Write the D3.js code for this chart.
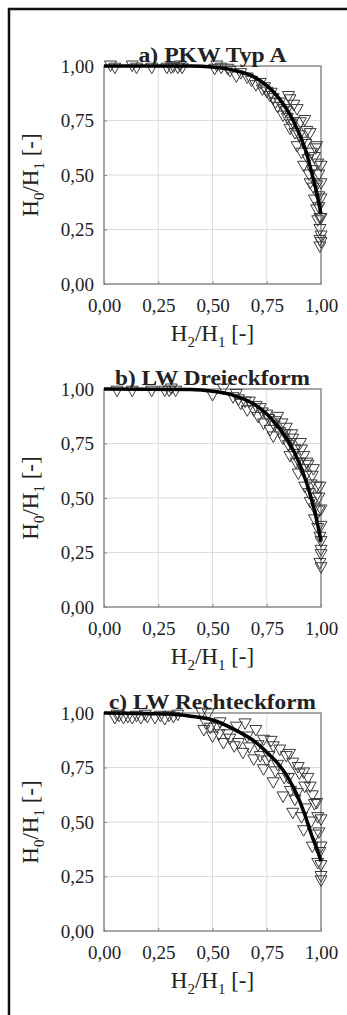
<!DOCTYPE html>
<html>
<head>
<meta charset="utf-8">
<script src="https://cdn.jsdelivr.net/npm/d3@7"></script>
<style>
  body { margin: 0; background: #fff; }
  svg { display: block; }
  svg text { font-family: "Liberation Serif", "Times New Roman", Times, serif !important; fill: #222; }
</style>
</head>
<body>
<div id="chart"></div>
<script>
// tick labels (German decimal comma)
const tickValues = [0, 0.25, 0.5, 0.75, 1];
const tickLabels = ['0,00', '0,25', '0,50', '0,75', '1,00'];

const titles = ['a) PKW Typ A', 'b) LW Dreieckform', 'c) LW Rechteckform'];

// measured points [H2/H1, H0/H1]
const pointsA = [
  [0.05, 0.99], [0.15, 0.99], [0.22, 0.99], [0.29, 0.99], [0.31, 0.99], [0.34, 0.99], [0.36, 0.99],
  [0.03, 1.0], [0.13, 1.0], [0.35, 1.0], [0.32, 0.995],
  [0.51, 0.985], [0.52, 1.0], [0.54, 0.99], [0.57, 0.985], [0.58, 0.975], [0.61, 0.95], [0.63, 0.965],
  [0.66, 0.945], [0.68, 0.93], [0.70, 0.91], [0.72, 0.92], [0.73, 0.89], [0.74, 0.90], [0.75, 0.88],
  [0.765, 0.86], [0.77, 0.875], [0.78, 0.85], [0.79, 0.83], [0.80, 0.81], [0.81, 0.83], [0.825, 0.77],
  [0.83, 0.80], [0.84, 0.79], [0.845, 0.76], [0.85, 0.86], [0.857, 0.71], [0.857, 0.845], [0.865, 0.73],
  [0.87, 0.74], [0.875, 0.82], [0.88, 0.69], [0.89, 0.63], [0.89, 0.80], [0.90, 0.68], [0.905, 0.74],
  [0.91, 0.60], [0.915, 0.65], [0.92, 0.54], [0.925, 0.75], [0.93, 0.64], [0.935, 0.70], [0.94, 0.57],
  [0.945, 0.50], [0.95, 0.46], [0.95, 0.69], [0.955, 0.60], [0.96, 0.52], [0.965, 0.44], [0.97, 0.385],
  [0.97, 0.58], [0.975, 0.62], [0.98, 0.63], [0.98, 0.45], [0.98, 0.34], [0.985, 0.29], [0.985, 0.55],
  [0.99, 0.50], [0.99, 0.40], [0.99, 0.35], [0.995, 0.25], [0.995, 0.30], [1.0, 0.54], [1.0, 0.46],
  [1.0, 0.39], [1.0, 0.30], [1.0, 0.19], [0.995, 0.17], [1.0, 0.22], [0.995, 0.20]
];
const pointsB = [
  [0.06, 0.99], [0.13, 0.99], [0.22, 0.99], [0.28, 0.99], [0.30, 0.99], [0.33, 0.99], [0.31, 1.0],
  [0.50, 0.97], [0.55, 1.0], [0.595, 0.96], [0.61, 0.975], [0.62, 0.95], [0.63, 0.93], [0.65, 0.94],
  [0.66, 0.90], [0.67, 0.94], [0.69, 0.90], [0.70, 0.92], [0.71, 0.87], [0.72, 0.91], [0.73, 0.89],
  [0.735, 0.84], [0.75, 0.88], [0.76, 0.86], [0.765, 0.81], [0.78, 0.78], [0.785, 0.83], [0.79, 0.85],
  [0.80, 0.87], [0.81, 0.80], [0.82, 0.84], [0.825, 0.77], [0.835, 0.79], [0.84, 0.82], [0.85, 0.74],
  [0.857, 0.69], [0.86, 0.75], [0.865, 0.79], [0.87, 0.77], [0.875, 0.70], [0.88, 0.72], [0.885, 0.66],
  [0.895, 0.61], [0.90, 0.66], [0.905, 0.75], [0.91, 0.72], [0.915, 0.63], [0.92, 0.69], [0.925, 0.55],
  [0.93, 0.60], [0.935, 0.66], [0.94, 0.65], [0.945, 0.52], [0.95, 0.48], [0.955, 0.56], [0.96, 0.60],
  [0.965, 0.63], [0.97, 0.40], [0.97, 0.45], [0.975, 0.50], [0.98, 0.55], [0.985, 0.36], [0.99, 0.44],
  [0.99, 0.50], [0.995, 0.32], [0.995, 0.55], [1.0, 0.445], [1.0, 0.37], [1.0, 0.30], [1.0, 0.26],
  [1.0, 0.24], [1.0, 0.18], [0.995, 0.20]
];
const pointsC = [
  [0.05, 0.975], [0.06, 0.99], [0.07, 0.985], [0.09, 0.975], [0.11, 0.98], [0.13, 0.975], [0.15, 0.985],
  [0.17, 0.975], [0.19, 0.99], [0.20, 0.98], [0.235, 0.975], [0.26, 0.985], [0.28, 0.97], [0.30, 0.985],
  [0.32, 0.98], [0.34, 0.99],
  [0.45, 1.0], [0.48, 0.995], [0.46, 0.92], [0.47, 0.95], [0.49, 0.93], [0.50, 0.89], [0.52, 0.935],
  [0.53, 0.90], [0.535, 0.955], [0.55, 0.86], [0.57, 0.90], [0.58, 0.88], [0.60, 0.845], [0.61, 0.935],
  [0.62, 0.86], [0.64, 0.815], [0.65, 0.95], [0.66, 0.89], [0.67, 0.84], [0.69, 0.785], [0.70, 0.92],
  [0.71, 0.85], [0.72, 0.80], [0.735, 0.74], [0.735, 0.875], [0.75, 0.78], [0.76, 0.80], [0.77, 0.87],
  [0.78, 0.68], [0.78, 0.845], [0.79, 0.73], [0.80, 0.76], [0.81, 0.83], [0.825, 0.615], [0.83, 0.70],
  [0.84, 0.80], [0.85, 0.70], [0.855, 0.81], [0.86, 0.64], [0.87, 0.54], [0.87, 0.77], [0.88, 0.60],
  [0.89, 0.63], [0.895, 0.75], [0.90, 0.72], [0.91, 0.52], [0.92, 0.46], [0.92, 0.725], [0.925, 0.66],
  [0.93, 0.56], [0.94, 0.70], [0.95, 0.66], [0.955, 0.50], [0.96, 0.385], [0.96, 0.62], [0.97, 0.58],
  [0.975, 0.44], [0.98, 0.585], [0.985, 0.31], [0.985, 0.52], [0.99, 0.45], [0.995, 0.36], [1.0, 0.51],
  [1.0, 0.385], [1.0, 0.30], [1.0, 0.25], [1.0, 0.23]
];

// fitted curve
const curveA = [[0, 1], [0.4, 1], [0.5, 0.995], [0.6, 0.98], [0.7, 0.945], [0.75, 0.91], [0.8, 0.86],
  [0.85, 0.79], [0.9, 0.69], [0.93, 0.61], [0.96, 0.50], [0.98, 0.42], [1.0, 0.32]];
const curveB = [[0, 1], [0.4, 0.998], [0.5, 0.99], [0.6, 0.97], [0.7, 0.925], [0.75, 0.885], [0.8, 0.83],
  [0.85, 0.76], [0.9, 0.66], [0.93, 0.58], [0.96, 0.48], [0.98, 0.40], [1.0, 0.30]];
const curveC = [[0, 1], [0.3, 0.995], [0.4, 0.985], [0.5, 0.968], [0.6, 0.925], [0.7, 0.865], [0.75, 0.82],
  [0.8, 0.77], [0.85, 0.70], [0.9, 0.60], [0.93, 0.52], [0.96, 0.43], [0.98, 0.38], [1.0, 0.32]];

const panels = [
  { title: titles[0], points: pointsA, curve: curveA, top: 66, titleLen: 148 },
  { title: titles[1], points: pointsB, curve: curveB, top: 389, titleLen: 195 },
  { title: titles[2], points: pointsC, curve: curveC, top: 713, titleLen: 207 }
];

const W = 347, H = 1015;
const left = 104, plotW = 217, plotH = 218;
const serif = '"Liberation Serif", "Times New Roman", Times, serif';

const svg = d3.select('#chart').append('svg')
  .attr('width', W)
  .attr('height', H);

// outer frame (cut off at right and bottom)
svg.append('rect')
  .attr('x', 9).attr('y', 9)
  .attr('width', 400).attr('height', 1100)
  .attr('fill', 'none')
  .attr('stroke', '#111')
  .attr('stroke-width', 2.5);

const x = d3.scaleLinear().domain([0, 1]).range([0, plotW]);
const y = d3.scaleLinear().domain([0, 1]).range([plotH, 0]);

panels.forEach(p => {
  const g = svg.append('g').attr('transform', `translate(${left},${p.top})`);

  // grid
  g.append('g').selectAll('line.gx')
    .data(tickValues.slice(1, -1))
    .enter().append('line')
    .attr('x1', d => x(d)).attr('x2', d => x(d))
    .attr('y1', 0).attr('y2', plotH)
    .attr('stroke', '#dcdcdc').attr('stroke-width', 1);
  g.append('g').selectAll('line.gy')
    .data(tickValues.slice(1, -1))
    .enter().append('line')
    .attr('y1', d => y(d)).attr('y2', d => y(d))
    .attr('x1', 0).attr('x2', plotW)
    .attr('stroke', '#dcdcdc').attr('stroke-width', 1);

  // plot border
  g.append('rect')
    .attr('width', plotW).attr('height', plotH)
    .attr('fill', 'none')
    .attr('stroke', '#8a8a8a')
    .attr('stroke-width', 1.5);

  // axes (inner ticks, labels only)
  const xAxis = g.append('g')
    .attr('transform', `translate(0,${plotH})`)
    .call(d3.axisBottom(x).tickValues(tickValues).tickFormat((d, i) => tickLabels[i])
      .tickSizeInner(-3).tickSizeOuter(0).tickPadding(10));
  const yAxis = g.append('g')
    .call(d3.axisLeft(y).tickValues(tickValues).tickFormat((d, i) => tickLabels[i])
      .tickSizeInner(-3).tickSizeOuter(0).tickPadding(10));
  [xAxis, yAxis].forEach(a => {
    a.attr('font-family', serif).attr('font-size', 19);
    a.select('.domain').remove();
    a.selectAll('line').attr('stroke', '#888');
    a.selectAll('text').attr('fill', '#222');
  });
  xAxis.selectAll('text').attr('dy', '0.95em');
  yAxis.selectAll('text').attr('dy', '0.34em');

  // data triangles (open, pointing down)
  const tri = 'M-6,-5L6,-5L0,5.5Z';
  g.append('g').selectAll('path.pt')
    .data(p.points)
    .enter().append('path')
    .attr('d', tri)
    .attr('transform', d => `translate(${x(d[0])},${y(d[1])})`)
    .attr('fill', 'none')
    .attr('stroke', '#3a3a3a')
    .attr('stroke-width', 1);

  // fit curve
  g.append('path')
    .datum(p.curve)
    .attr('d', d3.line().x(d => x(d[0])).y(d => y(d[1])).curve(d3.curveMonotoneX))
    .attr('fill', 'none')
    .attr('stroke', '#000')
    .attr('stroke-width', 3.5);

  // panel title
  g.append('text')
    .attr('x', plotW / 2).attr('y', -4)
    .attr('text-anchor', 'middle')
    .attr('textLength', p.titleLen)
    .attr('lengthAdjust', 'spacingAndGlyphs')
    .attr('font-family', serif)
    .attr('font-size', 20)
    .attr('font-weight', 'bold')
    .text(p.title);

  // x axis title
  const xt = g.append('text')
    .attr('x', plotW / 2).attr('y', plotH + 57)
    .attr('text-anchor', 'middle')
    .attr('font-family', serif)
    .attr('font-size', 23);
  xt.append('tspan').text('H');
  xt.append('tspan').attr('dy', 6).attr('font-size', 15).text('2');
  xt.append('tspan').attr('dy', -6).text('/H');
  xt.append('tspan').attr('dy', 6).attr('font-size', 15).text('1');
  xt.append('tspan').attr('dy', -6).text(' [-]');

  // y axis title
  const yt = g.append('text')
    .attr('transform', `translate(${38 - left},${plotH / 2}) rotate(-90)`)
    .attr('text-anchor', 'middle')
    .attr('font-family', serif)
    .attr('font-size', 23);
  yt.append('tspan').text('H');
  yt.append('tspan').attr('dy', 6).attr('font-size', 15).text('0');
  yt.append('tspan').attr('dy', -6).text('/H');
  yt.append('tspan').attr('dy', 6).attr('font-size', 15).text('1');
  yt.append('tspan').attr('dy', -6).text(' [-]');
});
</script>
</body>
</html>
